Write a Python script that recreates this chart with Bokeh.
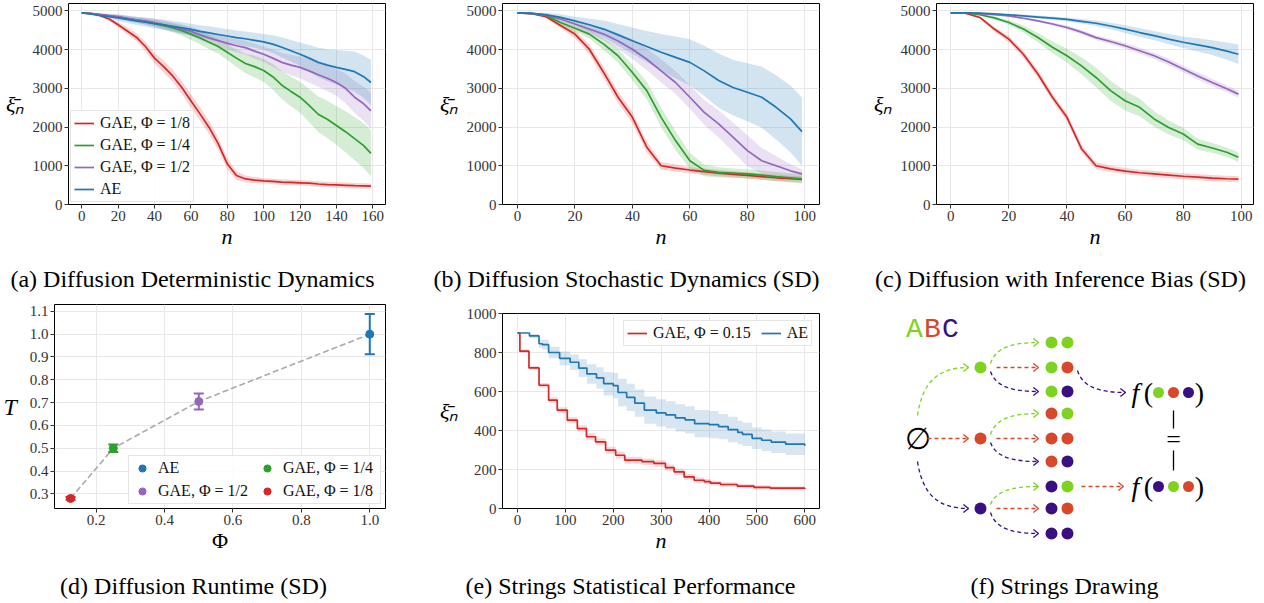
import numpy as np
from bokeh.plotting import figure
from bokeh.models import Range1d, FixedTicker, NumeralTickFormatter, Legend, LegendItem
from bokeh.layouts import row, column
from bokeh.embed import file_html
from bokeh.resources import INLINE
from bokeh.core.properties import value

BLUE = "#1f77b4"; GREEN = "#2ca02c"; RED = "#d62728"; PURPLE = "#9467bd"
SERIF = "Liberation Serif"

# ---------------- (a) Diffusion Deterministic Dynamics ----------------
A_N = [0, 5, 10, 15, 20, 25, 30, 35, 40, 45, 50, 55, 60, 65, 70, 75, 80, 85, 90, 95,
       100, 105, 110, 115, 120, 125, 130, 135, 140, 145, 150, 155, 159]
A_RED = [4950, 4930, 4880, 4790, 4640, 4480, 4320, 4080, 3780, 3560, 3320, 3020, 2680, 2340, 1990, 1570,
         1050, 750, 660, 630, 610, 595, 580, 570, 560, 550, 530, 515, 505, 495, 485, 480, 475]
A_RED_SD = [0, 10, 20, 40, 70, 90, 100, 120, 140, 150, 150, 160, 170, 170, 170, 160, 140, 110, 90, 80,
            70, 70, 70, 70, 70, 70, 70, 70, 70, 70, 70, 70, 70]
A_GREEN = [4950, 4930, 4900, 4870, 4840, 4800, 4760, 4720, 4670, 4620, 4560, 4490, 4400, 4300, 4190, 4080,
           3930, 3780, 3640, 3560, 3460, 3300, 3080, 2920, 2770, 2560, 2330, 2200, 2040, 1880, 1700, 1520, 1320]
A_GREEN_SD = [0, 10, 25, 35, 45, 55, 65, 75, 85, 100, 115, 130, 150, 165, 180, 190, 200, 220, 250, 280,
              300, 330, 360, 380, 400, 430, 460, 480, 500, 530, 560, 580, 600]
A_PURPLE = [4950, 4935, 4910, 4880, 4850, 4810, 4770, 4740, 4700, 4640, 4590, 4530, 4470, 4380, 4300, 4230,
            4160, 4100, 4050, 3960, 3880, 3780, 3670, 3600, 3540, 3450, 3350, 3260, 3150, 3000, 2770, 2600, 2420]
A_PURPLE_SD = [0, 15, 30, 45, 60, 70, 80, 90, 100, 105, 110, 115, 120, 130, 140, 150, 160, 170, 180, 190,
               200, 220, 240, 260, 280, 300, 310, 330, 350, 380, 410, 440, 470]
A_BLUE = [4950, 4920, 4880, 4850, 4820, 4780, 4740, 4710, 4670, 4640, 4600, 4560, 4520, 4470, 4430, 4390,
          4350, 4310, 4280, 4240, 4200, 4140, 4060, 3970, 3880, 3780, 3670, 3600, 3540, 3490, 3430, 3300, 3150]
A_BLUE_SD = [0, 30, 50, 65, 80, 95, 105, 115, 125, 135, 140, 145, 150, 160, 170, 175, 180, 185, 190, 195,
             200, 230, 260, 280, 300, 340, 380, 410, 450, 480, 520, 550, 580]

# ---------------- (b) Diffusion Stochastic Dynamics ----------------
B_N = [0, 5, 10, 15, 20, 25, 30, 35, 40, 45, 50, 55, 60, 65, 70, 75, 80, 85, 90, 95, 99]
B_RED = [4950, 4930, 4850, 4620, 4400, 4010, 3410, 2770, 2250, 1480, 1000, 940, 890, 850, 810, 780, 750, 720, 690, 665, 645]
B_RED_SD = [0, 15, 40, 70, 100, 130, 150, 150, 150, 140, 100, 90, 80, 80, 80, 80, 80, 80, 80, 80, 80]
B_GREEN = [4950, 4930, 4880, 4700, 4550, 4400, 4140, 3840, 3410, 2940, 2250, 1650, 1130, 880, 830, 810, 790, 760, 720, 690, 660]
B_GREEN_SD = [0, 15, 40, 60, 80, 110, 150, 180, 200, 230, 250, 250, 200, 150, 130, 120, 120, 120, 120, 120, 120]
B_PURPLE = [4950, 4935, 4890, 4790, 4660, 4530, 4400, 4220, 4010, 3750, 3450, 3150, 2770, 2380, 2080, 1740, 1390, 1130, 1000, 870, 790]
B_PURPLE_SD = [0, 15, 40, 60, 80, 120, 160, 200, 250, 280, 300, 300, 300, 320, 350, 380, 400, 330, 250, 170, 120]
B_BLUE = [4950, 4935, 4900, 4830, 4740, 4640, 4530, 4380, 4230, 4080, 3930, 3800, 3670, 3450, 3200, 3020, 2900, 2770, 2510, 2210, 1880]
B_BLUE_SD = [0, 20, 50, 80, 110, 160, 220, 280, 340, 400, 470, 540, 600, 650, 700, 720, 750, 790, 830, 860, 880]

# ---------------- (c) Diffusion with Inference Bias ----------------
C_N = B_N
C_RED = [4950, 4940, 4830, 4530, 4270, 3880, 3370, 2770, 2250, 1440, 1000, 920, 860, 820, 790, 760, 730, 705, 680, 665, 655]
C_RED_SD = [0, 10, 30, 60, 80, 90, 100, 100, 100, 100, 90, 80, 80, 80, 80, 80, 80, 80, 80, 80, 80]
C_GREEN = [4950, 4945, 4900, 4820, 4700, 4530, 4310, 4060, 3840, 3580, 3280, 2940, 2680, 2510, 2210, 1990, 1820, 1560, 1460, 1350, 1220]
C_GREEN_SD = [0, 5, 20, 40, 60, 90, 120, 150, 180, 220, 250, 260, 250, 230, 200, 180, 160, 140, 130, 120, 120]
C_PURPLE = [4950, 4945, 4930, 4900, 4870, 4810, 4740, 4660, 4570, 4450, 4310, 4210, 4100, 3970, 3840, 3680, 3500, 3320, 3150, 2990, 2850]
C_PURPLE_SD = [0, 5, 10, 15, 20, 25, 30, 40, 50, 55, 60, 65, 70, 75, 80, 85, 85, 90, 90, 90, 90]
C_BLUE = [4950, 4948, 4940, 4925, 4900, 4870, 4840, 4810, 4780, 4730, 4680, 4610, 4530, 4440, 4360, 4270, 4190, 4120, 4050, 3960, 3880]
C_BLUE_SD = [0, 5, 10, 15, 20, 30, 40, 45, 50, 60, 70, 85, 100, 110, 120, 135, 150, 170, 190, 220, 250]

SERIES_LABELS = ["GAE, \u03a6 = 1/8", "GAE, \u03a6 = 1/4", "GAE, \u03a6 = 1/2", "AE"]
SERIES_COLORS = [RED, GREEN, PURPLE, BLUE]

# ---------------- (d) Diffusion Runtime ----------------
D_LABELS = ["AE", "GAE, \u03a6 = 1/2", "GAE, \u03a6 = 1/4", "GAE, \u03a6 = 1/8"]
D_PHI = [1.0, 0.5, 0.25, 0.125]
D_T = [1.0, 0.705, 0.5, 0.28]
D_ERR = [0.088, 0.035, 0.016, 0.006]
D_COLORS = [BLUE, PURPLE, GREEN, RED]

# ---------------- (e) Strings Statistical Performance ----------------
E_RED_N = [0, 5, 24, 45, 65, 83, 104, 125, 144, 163, 184, 205, 224, 260, 285, 309, 327, 348, 369, 390,
           403, 424, 459, 494, 528, 600]
E_RED = [900, 807, 721, 632, 556, 504, 453, 410, 368, 342, 299, 273, 248, 240, 231, 210, 188, 162, 145, 138,
         130, 123, 115, 108, 104, 100]
E_RED_SD = [0, 8, 10, 12, 14, 15, 16, 17, 18, 18, 18, 18, 18, 17, 17, 16, 16, 15, 14, 13,
            12, 12, 11, 11, 10, 10]
E_BLUE_N = [0, 25, 45, 52, 65, 88, 110, 128, 145, 165, 180, 200, 210, 228, 245, 265, 290, 310, 330, 350,
            370, 400, 420, 440, 460, 470, 490, 510, 530, 560, 600]
E_BLUE = [900, 885, 845, 840, 800, 770, 750, 720, 690, 670, 640, 630, 595, 570, 540, 505, 490, 480, 465, 455,
          435, 430, 420, 405, 390, 380, 360, 350, 340, 330, 322]
E_BLUE_SD = [0, 10, 20, 25, 30, 35, 40, 45, 50, 55, 60, 65, 70, 70, 70, 70, 70, 70, 70, 70,
             70, 70, 65, 65, 60, 60, 55, 55, 55, 55, 50]
E_LABELS = ["GAE, \u03a6 = 0.15", "AE"]

CAPTIONS = ["(a) Diffusion Deterministic Dynamics", "(b) Diffusion Stochastic Dynamics (SD)",
            "(c) Diffusion with Inference Bias (SD)", "(d) Diffusion Runtime (SD)",
            "(e) Strings Statistical Performance", "(f) Strings Drawing"]

# ---------------- (f) Strings Drawing (pixel layout of the sketch) ----------------
F_GREEN = "#7ed321"; F_RED = "#d9472b"; F_PURPLE = "#3a0f82"
F_SYMBOLS = ["A", "B", "C"]
F_SYMBOL_COLORS = [F_GREEN, F_RED, F_PURPLE]
F_SYMBOL_X = [914, 932, 950]
F_SYMBOL_Y = 329
F_EMPTY_X, F_EMPTY_Y = 917, 438
F_L1_X = 980
F_L1_Y = [367, 438, 508]
F_L2_X = [1051, 1067]
F_L2_Y = [342, 367, 391, 413, 438, 461, 486, 508, 533]
F_EQ_Y = [392, 486]
F_EQ_WORDS = [[0, 1, 2], [2, 0, 1]]
F_F_X = 1135
F_PAREN_X = [1148, 1199]
F_WORD_DOT_X = [1158, 1173, 1188]
F_EQ_X = 1173
F_CAPTION_XY = (1064, 585)


def step_expand(xs, ys):
    X, Y = [], []
    for i in range(len(xs)):
        nxt = xs[i + 1] if i + 1 < len(xs) else xs[i]
        X += [xs[i], nxt]
        Y += [ys[i], ys[i]]
    return np.array(X, float), np.array(Y, float)


def make_fig(width, height, xr, yr, bl, br, bt, bb):
    p = figure(width=width, height=height, x_range=Range1d(*xr), y_range=Range1d(*yr),
               output_backend="svg", toolbar_location=None, title_location=None, frame_align=False,
               min_border_left=bl, min_border_right=br, min_border_top=bt, min_border_bottom=bb)
    p.outline_line_color = "black"
    p.outline_line_width = 1
    p.outline_line_alpha = 1.0
    for g in p.grid:
        g.grid_line_color = "#e8e8e8"
        g.grid_line_width = 1
    for ax in p.axis:
        ax.axis_line_color = None
        ax.major_tick_out = 4
        ax.major_tick_in = 0
        ax.major_tick_line_color = "#333333"
        ax.minor_tick_line_color = None
        ax.major_label_text_font = SERIF
        ax.major_label_text_font_size = "15px"
        ax.major_label_text_color = "#333333"
        ax.major_label_standoff = 2
        ax.axis_label_text_font = SERIF
        ax.axis_label_text_font_size = "22px"
        ax.axis_label_text_font_style = "italic"
        ax.axis_label_text_color = "black"
        ax.axis_label_standoff = 0
    p.yaxis.axis_label_orientation = "horizontal"
    p.yaxis.axis_label_standoff = 5
    return p


def blank_fig(width, height, x0, y0):
    # a figure whose data units are page pixels: x from x0, y from y0 downward
    p = figure(width=width, height=height, x_range=Range1d(x0, x0 + width),
               y_range=Range1d(y0 + height, y0), output_backend="svg", toolbar_location=None,
               min_border=0, title_location=None, frame_align=False,
               x_axis_location=None, y_axis_location=None)
    p.grid.visible = False
    p.outline_line_color = None
    return p


def caption_fig(text, width, height, x0, y0, cx, cy):
    p = blank_fig(width, height, x0, y0)
    p.text(x=[cx], y=[cy], text=[text], text_font=value(SERIF), text_font_size=value("24px"),
           text_align="center", text_baseline="middle", text_color="black")
    return p


def set_ticks(p, xt, yt):
    p.xaxis.ticker = FixedTicker(ticks=xt)
    p.xgrid.ticker = FixedTicker(ticks=xt)
    p.yaxis.ticker = FixedTicker(ticks=yt)
    p.ygrid.ticker = FixedTicker(ticks=yt)


def style_legend(lg, size="16px"):
    lg.label_text_font = SERIF
    lg.label_text_font_size = size
    lg.label_text_color = "#111111"
    lg.glyph_width = 20
    lg.glyph_height = 18
    lg.label_height = 18
    lg.label_standoff = 6
    lg.spacing = 4
    lg.padding = 3
    lg.border_line_color = "#cccccc"
    lg.border_line_width = 1
    lg.background_fill_alpha = 0.85


def curves_panel(p, n, means, sds, labels=None):
    n = np.array(n, float)
    rs = []
    for m, s, c in zip(means, sds, SERIES_COLORS):
        m = np.array(m, float); s = np.array(s, float)
        p.varea(x=n, y1=m - s, y2=m + s, fill_color=c, fill_alpha=0.2)
    for m, c in zip(means, SERIES_COLORS):
        rs.append(p.line(n, np.array(m, float), line_color=c, line_width=1.7))
    if labels:
        lg = Legend(items=[LegendItem(label=l, renderers=[r]) for l, r in zip(labels, rs)],
                    location="bottom_left")
        style_legend(lg)
        lg.margin = 2
        p.add_layout(lg)


XI_BAR = "\u03be\u0304\u2099"
XI = "\u03be\u2099"

# (a)
p_a = make_fig(430, 264, (-7.3, 167), (0, 5190), 68, 45, 3, 60)
set_ticks(p_a, [0, 20, 40, 60, 80, 100, 120, 140, 160], [0, 1000, 2000, 3000, 4000, 5000])
p_a.xaxis.axis_label = "n"
p_a.yaxis.axis_label = XI_BAR
curves_panel(p_a, A_N, [A_RED, A_GREEN, A_PURPLE, A_BLUE],
             [A_RED_SD, A_GREEN_SD, A_PURPLE_SD, A_BLUE_SD], SERIES_LABELS)
cap_a = caption_fig(CAPTIONS[0], 430, 34, 0, 264, 192, 278)

# (b)
p_b = make_fig(420, 264, (-5.2, 105.1), (0, 5190), 72, 31, 3, 60)
set_ticks(p_b, [0, 20, 40, 60, 80, 100], [0, 1000, 2000, 3000, 4000, 5000])
p_b.xaxis.axis_label = "n"
p_b.yaxis.axis_label = XI_BAR
curves_panel(p_b, B_N, [B_RED, B_GREEN, B_PURPLE, B_BLUE],
             [B_RED_SD, B_GREEN_SD, B_PURPLE_SD, B_BLUE_SD])
cap_b = caption_fig(CAPTIONS[1], 420, 34, 430, 264, 626, 278)

# (c)
p_c = make_fig(414, 264, (-4.9, 104.2), (0, 5190), 86, 11, 3, 60)
set_ticks(p_c, [0, 20, 40, 60, 80, 100], [0, 1000, 2000, 3000, 4000, 5000])
p_c.xaxis.axis_label = "n"
p_c.yaxis.axis_label = XI
curves_panel(p_c, C_N, [C_RED, C_GREEN, C_PURPLE, C_BLUE],
             [C_RED_SD, C_GREEN_SD, C_PURPLE_SD, C_BLUE_SD])
cap_c = caption_fig(CAPTIONS[2], 414, 34, 850, 264, 1060, 278)

# (d)
p_d = make_fig(430, 266, (0.078, 1.046), (0.236, 1.13), 54, 45, 6, 56)
set_ticks(p_d, [0.2, 0.4, 0.6, 0.8, 1.0], [0.3, 0.4, 0.5, 0.6, 0.7, 0.8, 0.9, 1.0, 1.1])
p_d.xaxis.formatter = NumeralTickFormatter(format="0.0")
p_d.yaxis.formatter = NumeralTickFormatter(format="0.0")
p_d.xaxis.axis_label = "\u03a6"
p_d.xaxis.axis_label_text_font_style = "normal"
p_d.yaxis.axis_label = "T"
p_d.yaxis.axis_label_text_font_size = "24px"
p_d.yaxis.axis_label_standoff = 10
order = np.argsort(D_PHI)
p_d.line(np.array(D_PHI)[order], np.array(D_T)[order], line_color="#aaaaaa",
         line_dash="6 3", line_width=1.6)
d_items = []
for phi, t, e, c, lab in zip(D_PHI, D_T, D_ERR, D_COLORS, D_LABELS):
    p_d.segment(x0=[phi], y0=[t - e], x1=[phi], y1=[t + e], line_color=c, line_width=2)
    p_d.scatter([phi, phi], [t - e, t + e], marker="dash", size=10, line_color=c, line_width=2)
    r = p_d.scatter([phi], [t], marker="circle", size=8, fill_color=c, line_color=c)
    d_items.append(LegendItem(label=lab, renderers=[r]))
lg_d = Legend(items=d_items, location="bottom_right", ncols=2)
style_legend(lg_d)
lg_d.spacing = 5
lg_d.label_width = 94
lg_d.margin = 4
p_d.add_layout(lg_d)
cap_d = caption_fig(CAPTIONS[3], 430, 37, 0, 564, 193, 585)

# (e)
p_e = make_fig(420, 266, (-31.3, 630.7), (0, 1000), 72, 31, 15, 56)
set_ticks(p_e, [0, 100, 200, 300, 400, 500, 600], [0, 200, 400, 600, 800, 1000])
p_e.xaxis.axis_label = "n"
p_e.yaxis.axis_label = XI_BAR
e_rs = []
for ns, vs, sds, c in [(E_RED_N, E_RED, E_RED_SD, RED), (E_BLUE_N, E_BLUE, E_BLUE_SD, BLUE)]:
    X, Y = step_expand(ns, vs)
    _, S = step_expand(ns, sds)
    p_e.varea(x=X, y1=Y - S, y2=Y + S, fill_color=c, fill_alpha=0.18)
for ns, vs, c in [(E_RED_N, E_RED, RED), (E_BLUE_N, E_BLUE, BLUE)]:
    X, Y = step_expand(ns, vs)
    e_rs.append(p_e.line(X, Y, line_color=c, line_width=1.7))
lg_e = Legend(items=[LegendItem(label=l, renderers=[r]) for l, r in zip(E_LABELS, e_rs)],
              location="top_right", orientation="horizontal")
style_legend(lg_e)
lg_e.spacing = 10
lg_e.margin = 7
p_e.add_layout(lg_e)
cap_e = caption_fig(CAPTIONS[4], 420, 37, 430, 564, 630, 585)

# (f) drawing, data units = page pixels
p_f = blank_fig(414, 303, 850, 298)

p_f.text(x=F_SYMBOL_X, y=[F_SYMBOL_Y] * 3, text=F_SYMBOLS, text_color=F_SYMBOL_COLORS,
         text_font=value("Liberation Mono"), text_font_size=value("28px"),
         text_align="center", text_baseline="middle")
p_f.text(x=[F_EMPTY_X], y=[F_EMPTY_Y], text=["\u2205"], text_color="black",
         text_font=value(SERIF), text_font_size=value("30px"),
         text_align="center", text_baseline="middle")

arrows = []  # (sx, sy, ex, ey, color)
col_of = [F_GREEN, F_RED, F_PURPLE]
for i, y in enumerate(F_L1_Y):
    if y < F_EMPTY_Y:
        arrows.append((F_EMPTY_X, F_EMPTY_Y - 23, F_L1_X - 12, y, col_of[i]))
    elif y > F_EMPTY_Y:
        arrows.append((F_EMPTY_X, F_EMPTY_Y + 23, F_L1_X - 12, y, col_of[i]))
    else:
        arrows.append((F_EMPTY_X + 10, F_EMPTY_Y, F_L1_X - 12, y, col_of[i]))
for i, py in enumerate(F_L1_Y):
    for j in range(3):
        cy = F_L2_Y[3 * i + j]
        if j == 0:
            arrows.append((F_L1_X + 10, py - 4, F_L2_X[0] - 13, cy, col_of[j]))
        elif j == 1:
            arrows.append((F_L1_X + 16, py, F_L2_X[0] - 13, cy, col_of[j]))
        else:
            arrows.append((F_L1_X + 10, py + 4, F_L2_X[0] - 13, cy, col_of[j]))
arrows.append((F_L2_X[1] + 10, F_L2_Y[1] + 3, F_F_X - 10, F_EQ_Y[0], F_PURPLE))
arrows.append((F_L2_X[1] + 14, F_L2_Y[6], F_F_X - 12, F_EQ_Y[1], F_RED))

bx0, by0, bx1, by1, bcx0, bcy0, bcx1, bcy1, bcol = [], [], [], [], [], [], [], [], []
hx, hy, hcol = [], [], []
for sx, sy, ex, ey, c in arrows:
    if sy == ey:
        c0 = (sx + (ex - sx) / 3, sy); c1 = (sx + 2 * (ex - sx) / 3, ey)
    else:
        c0 = (sx + 0.1 * (ex - sx), sy + 0.7 * (ey - sy))
        c1 = (sx + 0.4 * (ex - sx), ey)
    bx0.append(sx); by0.append(sy); bx1.append(ex); by1.append(ey)
    bcx0.append(c0[0]); bcy0.append(c0[1]); bcx1.append(c1[0]); bcy1.append(c1[1]); bcol.append(c)
    d = np.array([ex - c1[0], ey - c1[1]], float)
    d /= np.linalg.norm(d)
    L, th = 6.5, np.radians(38)
    legs = []
    for s in (1, -1):
        rot = np.array([[np.cos(s * th), -np.sin(s * th)], [np.sin(s * th), np.cos(s * th)]])
        legs.append(np.array([ex, ey]) - L * rot.dot(d))
    hx.append([legs[0][0], ex, legs[1][0]]); hy.append([legs[0][1], ey, legs[1][1]]); hcol.append(c)
p_f.bezier(x0=bx0, y0=by0, x1=bx1, y1=by1, cx0=bcx0, cy0=bcy0, cx1=bcx1, cy1=bcy1,
           line_color=bcol, line_width=1.3, line_dash="4 3")
p_f.multi_line(xs=hx, ys=hy, line_color=hcol, line_width=1.3)

p_f.scatter([F_L1_X] * 3, F_L1_Y, marker="circle", size=12, fill_color=col_of, line_color=None)
l2x, l2y, l2c = [], [], []
for i in range(3):
    for j in range(3):
        y = F_L2_Y[3 * i + j]
        l2x += F_L2_X; l2y += [y, y]; l2c += [col_of[i], col_of[j]]
p_f.scatter(l2x, l2y, marker="circle", size=12, fill_color=l2c, line_color=None)

wx, wy, wc = [], [], []
for y, word in zip(F_EQ_Y, F_EQ_WORDS):
    for x, k in zip(F_WORD_DOT_X, word):
        wx.append(x); wy.append(y); wc.append(col_of[k])
p_f.scatter(wx, wy, marker="circle", size=11, fill_color=wc, line_color=None)
p_f.text(x=[F_F_X] * 2, y=F_EQ_Y, text=["f", "f"], text_font=value(SERIF), text_font_style="italic",
         text_font_size=value("28px"), text_align="center", text_baseline="middle", text_color="black")
p_f.text(x=[F_PAREN_X[0], F_PAREN_X[1], F_PAREN_X[0], F_PAREN_X[1]],
         y=[F_EQ_Y[0], F_EQ_Y[0], F_EQ_Y[1], F_EQ_Y[1]], text=["(", ")", "(", ")"],
         text_font=value(SERIF), text_font_size=value("28px"), text_align="center",
         text_baseline="middle", text_color="black")
mid = (F_EQ_Y[0] + F_EQ_Y[1]) / 2
p_f.segment(x0=[F_EQ_X, F_EQ_X], y0=[F_EQ_Y[0] + 18, mid + 11], x1=[F_EQ_X, F_EQ_X],
            y1=[mid - 11, F_EQ_Y[1] - 16], line_color="black", line_width=1.3)
p_f.text(x=[F_EQ_X], y=[mid], text=["="], text_font=value(SERIF), text_font_size=value("26px"),
         text_align="center", text_baseline="middle", text_color="black")
p_f.text(x=[F_CAPTION_XY[0]], y=[F_CAPTION_XY[1]], text=[CAPTIONS[5]], text_font=value(SERIF),
         text_font_size=value("24px"), text_align="center", text_baseline="middle", text_color="black")

layout = column(
    row(column(p_a, cap_a, spacing=0), column(p_b, cap_b, spacing=0), column(p_c, cap_c, spacing=0), spacing=0),
    row(column(p_d, cap_d, spacing=0), column(p_e, cap_e, spacing=0), p_f, spacing=0),
    spacing=0)
open("out.html", "w").write(file_html(layout, INLINE, title="GAE results"))
